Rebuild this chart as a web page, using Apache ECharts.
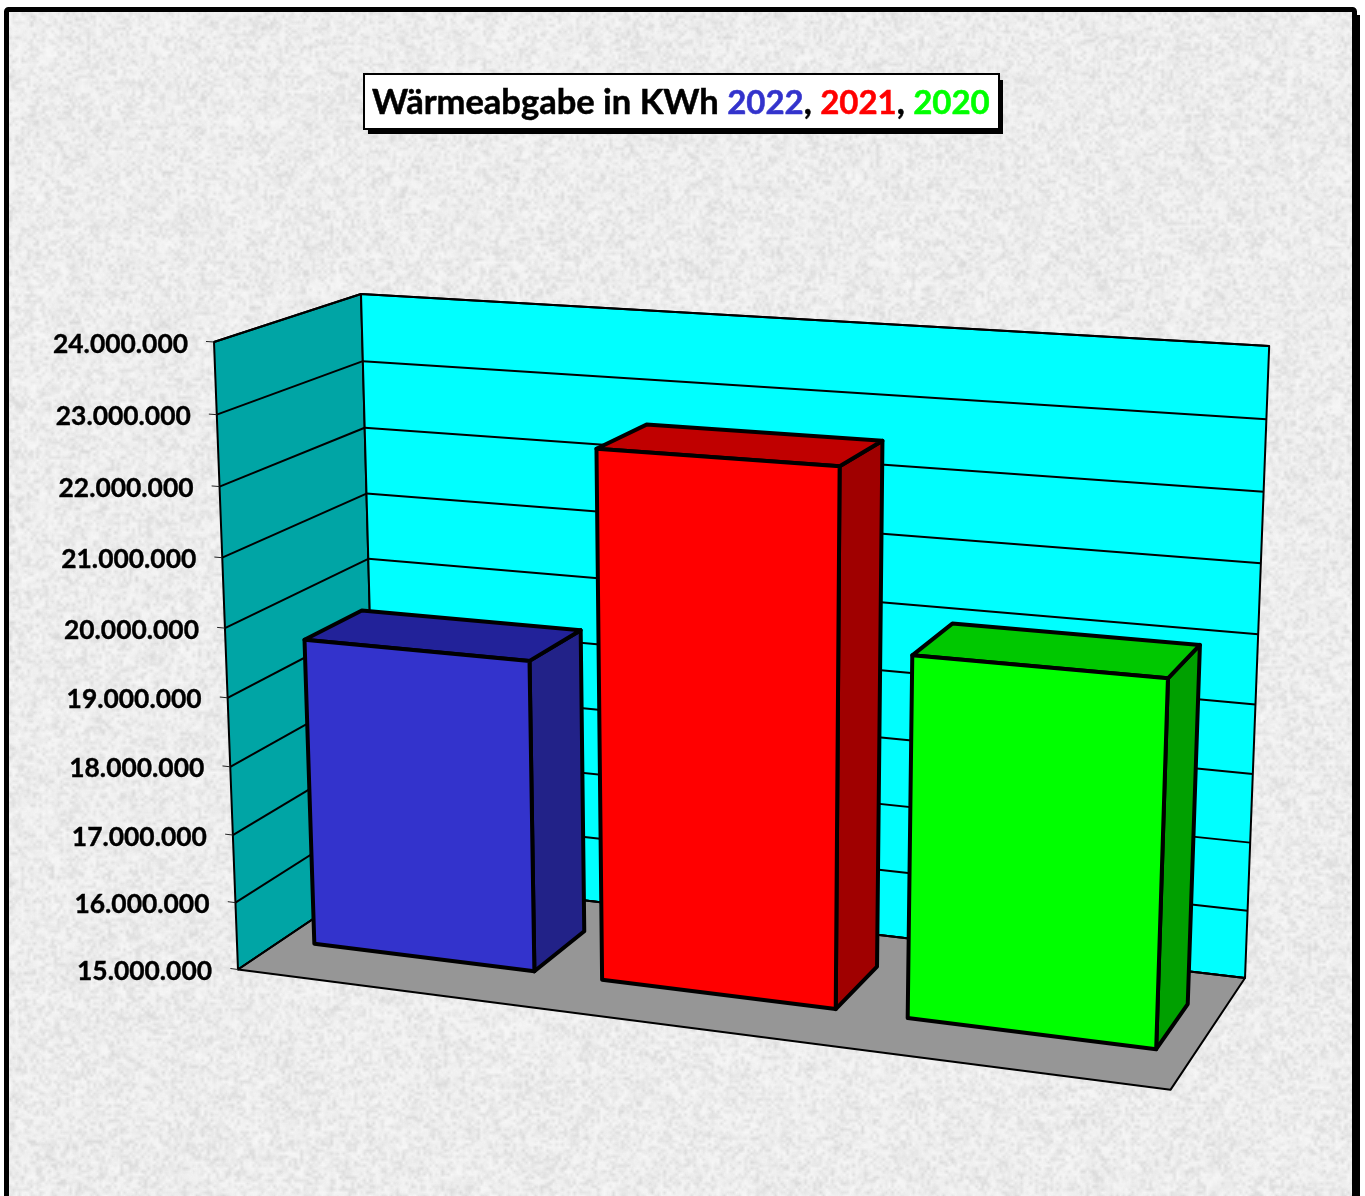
<!DOCTYPE html>
<html>
<head>
<meta charset="utf-8">
<style>html,body{margin:0;padding:0;background:#fff}#main{width:1365px;height:1196px}</style>
<script src="https://cdn.jsdelivr.net/npm/echarts@6/dist/echarts.min.js"></script>
</head>
<body>
<div id="main"></div>
<script>
// ---- data ----
const categories = ['2022', '2021', '2020'];
const heatValues = [19550000, 22610000, 20120000];
const tickValues = [15000000, 16000000, 17000000, 18000000, 19000000, 20000000, 21000000, 22000000, 23000000, 24000000];
const tickLabels = ['15.000.000', '16.000.000', '17.000.000', '18.000.000', '19.000.000', '20.000.000', '21.000.000', '22.000.000', '23.000.000', '24.000.000'];
const titleText = 'Wärmeabgabe in KWh';

// ---- styles ----
const frontColors = ['#3333CC', '#FF0000', '#00FF00'];
const topColors = ['#222299', '#C00000', '#00C800'];
const sideColors = ['#222288', '#A00000', '#00A000'];
const FONT = 'Lato, Carlito, "Open Sans", sans-serif';

// perspective camera: maps (u, v, w) in 0..1 (across, up, depth) to the page
const CAM = { o: [238, 969.5], ax: [827.9, 23], ay: [-33.74, -643.06], az: [169.89, -21.73], a: -0.08933, b: -0.0455, c: 0.08193 };
function project(u, v, w) {
  const h = 1 + CAM.a * u + CAM.b * v + CAM.c * w;
  return [
    (CAM.o[0] + CAM.ax[0] * u + CAM.ay[0] * v + CAM.az[0] * w) / h,
    (CAM.o[1] + CAM.ax[1] * u + CAM.ay[1] * v + CAM.az[1] * w) / h
  ];
}
const BAR_RATIO = 0.77, W0 = 0.302, W1 = 0.71;
function toUnit(pt, sys) {
  return [(pt[0] - sys.x) / sys.width, (sys.y + sys.height - pt[1]) / sys.height];
}
function poly(points, fill, stroke, lw) {
  return { type: 'polygon', shape: { points }, style: { fill, stroke, lineWidth: lw, lineJoin: 'round' } };
}
function seg(a, b, stroke, lw) {
  return { type: 'line', shape: { x1: a[0], y1: a[1], x2: b[0], y2: b[1] }, style: { stroke, lineWidth: lw, lineCap: 'butt' } };
}

// paper texture (fixed-seed grain, only decoration)
function makeTexture(w, h) {
  let seed = 12345;
  const rnd = () => (seed = (seed * 1664525 + 1013904223) >>> 0) / 4294967296;
  const c = document.createElement('canvas'); c.width = w; c.height = h;
  const g = c.getContext('2d');
  g.fillStyle = '#f0f0f0'; g.fillRect(0, 0, w, h);
  g.imageSmoothingEnabled = true;
  [[3, 0.7, 36], [5, 0.45, 26], [14, 0.3, 12]].forEach(([cell, alpha, amp]) => {
    const s = document.createElement('canvas');
    s.width = Math.ceil(w / cell); s.height = Math.ceil(h / cell);
    const sg = s.getContext('2d');
    const im = sg.createImageData(s.width, s.height);
    for (let i = 0; i < im.data.length; i += 4) {
      const d = rnd();
      const up = d > 0.45;
      im.data[i] = im.data[i + 1] = im.data[i + 2] = up ? 255 : 190;
      im.data[i + 3] = Math.abs(d - 0.45) * 2 * amp * 4;
    }
    sg.putImageData(im, 0, 0);
    g.globalAlpha = alpha;
    g.drawImage(s, 0, 0, s.width * cell, s.height * cell);
  });
  g.globalAlpha = 1;
  return c;
}

const chart = echarts.init(document.getElementById('main'), null, { renderer: 'canvas' });
const years = categories.map((c, i) => '{c' + i + '|' + c + '}').join('{k|, }');
function titleStyle(color, size) {
  return { color, fontSize: size, lineHeight: 40, fontWeight: 'bold', fontFamily: FONT, textBorderColor: color, textBorderWidth: 0.5 };
}
const titleRich = { k: titleStyle('#000', 34.5) };
categories.forEach((c, i) => { titleRich['c' + i] = titleStyle(frontColors[i], 33); });

chart.setOption({
  animation: false,
  backgroundColor: '#ffffff',
  tooltip: { show: false },
  title: {
    text: '{k|' + titleText + ' }' + years,
    left: 364, top: 71,
    padding: [12, 9, 8, 8],
    backgroundColor: '#fff', borderColor: '#000', borderWidth: 2,
    textStyle: { rich: titleRich }
  },
  graphic: [
    { type: 'rect', z: -2, shape: { x: 12, y: 15, width: 1348, height: 1300 }, style: { fill: '#000' } },
    { type: 'rect', z: -1, shape: { x: 6.5, y: 9.5, width: 1348, height: 1300, r: 2 },
      style: { fill: { image: makeTexture(1365, 1196), repeat: 'no-repeat' }, stroke: '#000', lineWidth: 5 } },
    { type: 'rect', z: 0, shape: { x: 368, y: 80, width: 635, height: 54 }, style: { fill: '#000' } }
  ],
  grid: { left: 238, top: 342, width: 932, height: 627, containLabel: false },
  xAxis: { type: 'category', data: categories, show: false },
  yAxis: { type: 'value', min: 15000000, max: 24000000, interval: 1000000, show: false },
  series: [
    { // walls and floor
      type: 'custom', z: 2, silent: true, clip: false,
      data: [[0, 15000000]],
      renderItem() {
        return { type: 'group', children: [
          poly([project(0,0,0), project(0,1,0), project(0,1,1), project(0,0,1)], '#00A5A5', '#000', 2),
          poly([project(0,0,1), project(0,1,1), project(1,1,1), project(1,0,1)], '#00FFFF', '#000', 2),
          poly([project(0,0,0), project(1,0,0), project(1,0,1), project(0,0,1)], '#969696', '#000', 2)
        ] };
      }
    },
    { // gridlines, ticks, tick labels
      type: 'custom', z: 3, silent: true, clip: false,
      data: tickValues.map((v, i) => [0, v, i]),
      encode: { x: 0, y: 1 },
      renderItem(params, api) {
        const sys = params.coordSys;
        const v = toUnit(api.coord([0, api.value(1)]), sys)[1];
        const a = project(0, v, 0), b = project(0, v, 1), c = project(1, v, 1);
        return { type: 'group', children: [
          seg(a, b, '#000', 2),
          seg(b, c, '#000', 2),
          seg(project(-0.009, v, 0), a, '#222', 1),
          { type: 'text', style: {
              text: tickLabels[api.value(2)], x: a[0] - 26, y: a[1] + 2,
              align: 'right', verticalAlign: 'middle', textAlign: 'right', textVerticalAlign: 'middle',
              fill: '#000', stroke: '#000', lineWidth: 0.4, font: 'bold 26.4px ' + FONT } }
        ] };
      }
    },
    { // 3D bars
      type: 'custom', z: 4, silent: true, clip: false,
      data: heatValues.map((v, i) => [i, v]),
      encode: { x: 0, y: 1 },
      renderItem(params, api) {
        const sys = params.coordSys, i = api.value(0);
        const top = api.coord([i, api.value(1)]);
        const half = api.size([1, 0])[0] * BAR_RATIO / 2;
        const u0 = (top[0] - half - sys.x) / sys.width;
        const u1 = (top[0] + half - sys.x) / sys.width;
        const v = toUnit(top, sys)[1];
        const lw = 4;
        return { type: 'group', children: [
          poly([project(u1,0,W0), project(u1,v,W0), project(u1,v,W1), project(u1,0,W1)], sideColors[i], '#000', lw),
          poly([project(u0,v,W0), project(u1,v,W0), project(u1,v,W1), project(u0,v,W1)], topColors[i], '#000', lw),
          poly([project(u0,0,W0), project(u0,v,W0), project(u1,v,W0), project(u1,0,W0)], frontColors[i], '#000', lw)
        ] };
      }
    }
  ]
});
</script>
</body>
</html>
